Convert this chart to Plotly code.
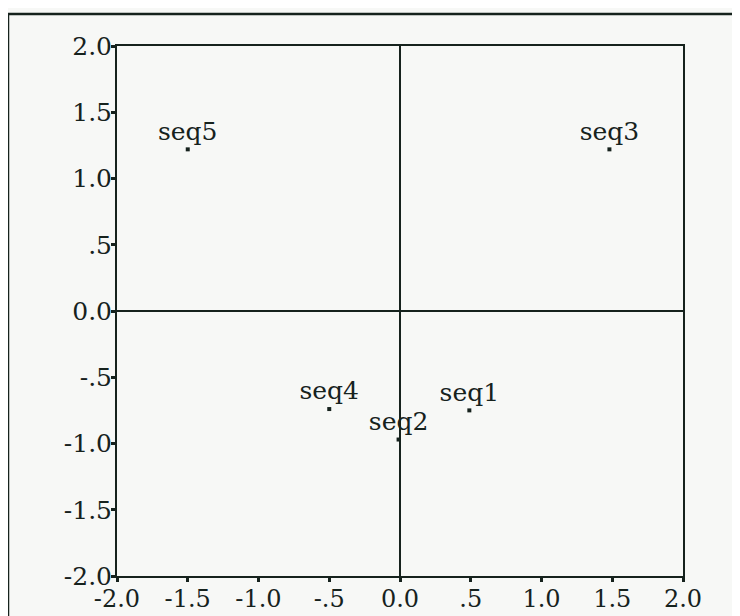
import plotly.graph_objects as go

labels = ["seq1", "seq2", "seq3", "seq4", "seq5"]
dim1 = [0.49, -0.01, 1.48, -0.50, -1.50]
dim2 = [-0.75, -0.97, 1.22, -0.74, 1.22]

tick_vals = [-2.0, -1.5, -1.0, -0.5, 0.0, 0.5, 1.0, 1.5, 2.0]
tick_text = ["-2.0", "-1.5", "-1.0", "-.5", "0.0", ".5", "1.0", "1.5", "2.0"]

ink = "#16221d"
paper = "#f7f8f6"
OFF = 8  # default page body margin
W, H = 740 - OFF, 616 - OFF
L, T = 117 - OFF, 46 - OFF
pw, ph = 566, 530
R, B = W - L - pw, H - T - ph

fig = go.Figure()
fig.add_trace(go.Scatter(
    x=dim1, y=dim2, mode="markers+text", text=labels,
    textposition="top center",
    textfont=dict(family="DejaVu Serif", size=25, color=ink),
    marker=dict(symbol="square", size=4, color=ink),
    cliponaxis=False, showlegend=False,
))

axis_common = dict(
    range=[-2, 2], tickvals=tick_vals, ticktext=tick_text,
    showgrid=False, zeroline=True, zerolinecolor=ink, zerolinewidth=1.5,
    showline=True, linecolor=ink, linewidth=2, mirror=True,
    ticks="outside", ticklen=4, tickwidth=3, tickcolor=ink,
    tickfont=dict(family="DejaVu Serif", size=25, color=ink),
    fixedrange=True, automargin=False,
)
fig.update_xaxes(**axis_common)
fig.update_yaxes(**axis_common)
fig.update_xaxes(tickfont=dict(size=24), ticklabelstandoff=-4)
fig.update_yaxes(ticklabelstandoff=-6)

fig.add_shape(type="rect", xref="paper", yref="paper",
              x0=(8 - OFF - L) / pw, x1=1.3, y0=-0.3, y1=(T + ph - (14 - OFF)) / ph,
              line=dict(color=ink, width=2.5), layer="below")

fig.update_layout(
    width=W, height=H,
    margin=dict(l=L, r=R, t=T, b=B, pad=0),
    paper_bgcolor=paper, plot_bgcolor=paper,
)
fig.write_html("out.html")
